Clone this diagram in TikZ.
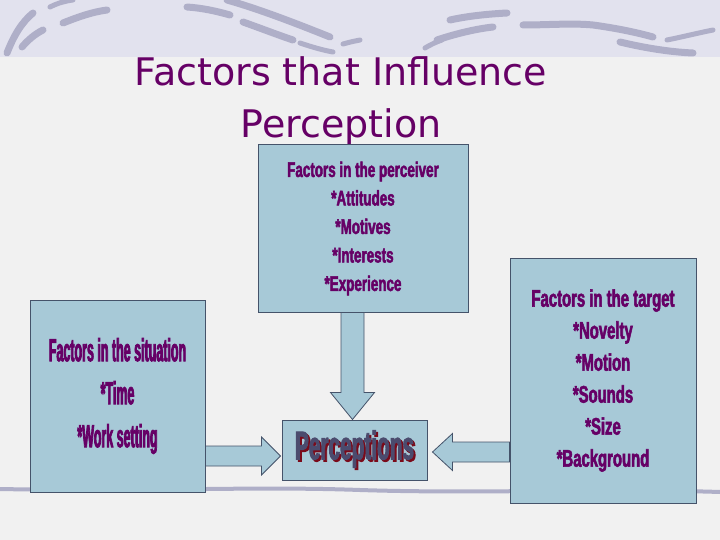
\documentclass[tikz,border=0pt]{standalone}
\usepackage{fontspec}
\usepackage{tikz}
\usetikzlibrary{positioning,calc}
\newfontfamily\titlefont{DejaVu Sans}
\newfontfamily\perfont[FakeStretch=0.64,FakeBold=2.2]{Liberation Sans Bold}
\newfontfamily\tgtfont[FakeStretch=0.62,FakeBold=2.2]{Liberation Sans Bold}
\newfontfamily\sitfont[FakeStretch=0.39,FakeBold=2.2]{Liberation Sans Bold}
\newfontfamily\pcpfont[FakeStretch=0.52,FakeBold=2.2]{Liberation Sans Bold}
\definecolor{bgcol}{HTML}{F1F1F1}
\definecolor{bandcol}{HTML}{E2E2EE}
\definecolor{swoosh}{HTML}{AFAFC8}
\definecolor{boxfill}{HTML}{A7C9D7}
\definecolor{boxline}{HTML}{45536A}
\definecolor{purp}{HTML}{660066}
\definecolor{pcptext}{HTML}{4B4B6E}
\definecolor{pcpshadow}{HTML}{7A0A1A}
\tikzstyle{factorbox} = [rectangle, draw=boxline, line width=1pt, fill=boxfill, text=purp, align=center, inner sep=0pt]
\tikzstyle{barrow} = [draw=boxline, line width=0.8pt, fill=boxfill, line join=miter]
\tikzstyle{wave} = [draw=swoosh, line width=7pt, line cap=round]

\begin{document}
\begin{tikzpicture}[x=1pt, y=-1pt]

% background =============================
\useasboundingbox (0,0) rectangle (720,540);
\fill[bgcol] (0,0) rectangle (720,540);
\fill[bandcol] (0,0) rectangle (720,57);

% swooshes in the band
\path[wave] (7,53) .. controls (14,35) and (22,22) .. (33,13);
\path[wave] (22,47) .. controls (28,40) and (35,34) .. (43,30);
\path[wave, line width=5pt] (50,7) .. controls (58,3) and (65,1) .. (73,0);
\path[wave] (63,23) .. controls (78,17) and (92,12) .. (107,10);
\path[wave] (187,7) .. controls (202,8) and (216,11) .. (230,15);
\path[wave] (227,0) .. controls (262,10) and (300,25) .. (330,37);
\path[wave] (243,22) .. controls (260,28) and (278,35) .. (293,40);
\path[wave, line width=5pt] (300,43) .. controls (312,47) and (322,50) .. (333,52);
\path[wave, line width=5pt] (343,44) .. controls (350,42) and (355,41) .. (360,40);
\path[wave] (437,40) .. controls (455,34) and (475,29) .. (493,27);
\path[wave] (450,20) .. controls (468,16) and (488,14) .. (507,13);
\path[wave, line width=5pt] (425,48) .. controls (430,45) and (436,42) .. (442,40);
\path[wave] (523,25) .. controls (548,25) and (572,23) .. (593,25) .. controls (615,28) and (635,32) .. (653,37);
\path[wave] (620,42) .. controls (645,48) and (670,52) .. (693,53);
\path[wave, line width=5pt] (667,40) .. controls (682,37) and (698,33) .. (713,30);

% bottom line
\path[draw=swoosh, line width=4pt] (0,489) .. controls (150,492) and (250,486) .. (360,490) .. controls (480,494) and (600,488) .. (720,492);

% title ==================================
\node[anchor=north, inner sep=0pt, align=center, text=purp, font=\titlefont\fontsize{38}{52}\selectfont] (title) at (341,56) {Factors that Influence\\Perception};

% boxes ==================================
\node[factorbox, minimum width=210pt, minimum height=167pt, font=\perfont\fontsize{21}{28.5}\selectfont] (perceiver) at (363,228.5)
  {Factors in the perceiver\\*Attitudes\\*Motives\\*Interests\\*Experience};
\node[factorbox, minimum width=175pt, minimum height=192pt, font=\sitfont\fontsize{32}{43}\selectfont] (situation) at (117.5,396)
  {Factors in the situation\\*Time\\*Work setting};
\node[factorbox, minimum width=186pt, minimum height=245pt, font=\tgtfont\fontsize{24}{32}\selectfont] (target) at (603,380.5)
  {Factors in the target\\*Novelty\\*Motion\\*Sounds\\*Size\\*Background};
\node[factorbox, minimum width=145pt, minimum height=60pt, text=pcptext, font=\pcpfont\fontsize{40}{44}\selectfont] (percept) at (354.5,450)
  {\makebox[0pt][l]{\hspace{2pt}\raisebox{-2pt}{\color{pcpshadow}Perceptions}}Perceptions};

% arrows =================================
\coordinate (tipd) at ($(percept.north)+(-2,0)$);
\coordinate (tipl) at ($(percept.west)+(-1,6)$);
\coordinate (tipr) at ($(percept.east)+(5,2)$);

\path[barrow] ($(perceiver.south -| tipd)+(-11.5,0)$) -- ($(tipd)+(-11.5,-27)$) -- ($(tipd)+(-22,-27)$) -- (tipd)
  -- ($(tipd)+(22,-27)$) -- ($(tipd)+(11.5,-27)$) -- ($(perceiver.south -| tipd)+(11.5,0)$) -- cycle;
\path[barrow] ($(situation.east |- tipl)+(0,-10)$) -- ($(tipl)+(-19,-10)$) -- ($(tipl)+(-19,-19)$) -- (tipl)
  -- ($(tipl)+(-19,19)$) -- ($(tipl)+(-19,10)$) -- ($(situation.east |- tipl)+(0,10)$) -- cycle;
\path[barrow] ($(target.west |- tipr)+(0,-10)$) -- ($(tipr)+(20,-10)$) -- ($(tipr)+(20,-18.5)$) -- (tipr)
  -- ($(tipr)+(20,18.5)$) -- ($(tipr)+(20,10)$) -- ($(target.west |- tipr)+(0,10)$) -- cycle;

\end{tikzpicture}
\end{document}
